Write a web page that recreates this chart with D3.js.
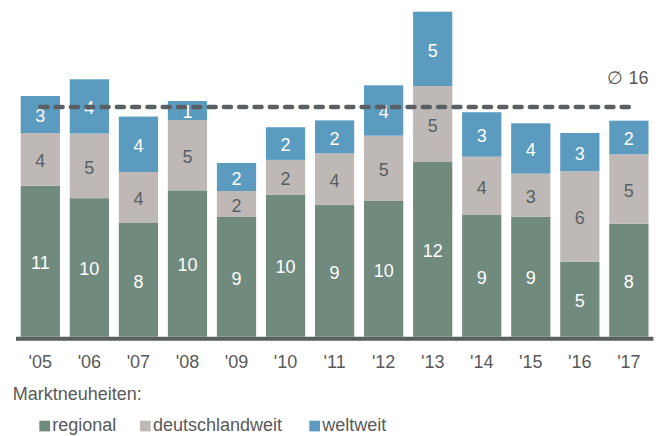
<!DOCTYPE html>
<html>
<head>
<meta charset="utf-8">
<script src="https://cdn.jsdelivr.net/npm/d3@7"></script>
<style>
  body { margin: 0; background: #fff; }
  text { font-family: "Liberation Sans", Arial, sans-serif; }
</style>
</head>
<body>
<div id="chart"></div>
<script>
const years = ["'05", "'06", "'07", "'08", "'09", "'10", "'11", "'12", "'13", "'14", "'15", "'16", "'17"];
const regional = [10.77, 9.88, 8.11, 10.44, 8.54, 10.14, 9.39, 9.68, 12.46, 8.68, 8.56, 5.35, 8.06];
const national = [3.76, 4.61, 3.64, 5.01, 1.85, 2.47, 3.69, 4.66, 5.42, 4.16, 3.07, 6.45, 4.95];
const worldwide = [2.64, 3.87, 3.95, 1.36, 2.00, 2.33, 2.35, 3.59, 5.30, 3.17, 3.59, 2.73, 2.40];
const seriesNames = ["regional", "deutschlandweit", "weltweit"];

const green = "#718a7e", grey = "#beb9b6", blue = "#5a9bbf";
const dark = "#5a5f63", textCol = "#595959";
const colorScale = d3.scaleOrdinal().domain(seriesNames).range([green, grey, blue]);
const labelColor = { regional: "#fff", deutschlandweit: dark, weltweit: "#fff" };

const W = 661, H = 436, baseY = 336.7;

const rows = years.map((y, i) => ({
  year: y, regional: regional[i], deutschlandweit: national[i], weltweit: worldwide[i]
}));
const stacked = d3.stack().keys(seriesNames)(rows);
const totals = rows.map(r => r.regional + r.deutschlandweit + r.weltweit);
const avg = d3.mean(totals);

const x = d3.scaleBand().domain(years).range([15.8, 653.4]).paddingInner(0.2).paddingOuter(0.1);
const y = d3.scaleLinear().domain([0, 24]).range([baseY, baseY - 24 * 14.02]);

const svg = d3.select("#chart").append("svg")
  .attr("width", W).attr("height", H);

const layers = svg.selectAll("g.layer").data(stacked).join("g")
  .attr("class", "layer")
  .attr("fill", d => colorScale(d.key));

layers.selectAll("rect").data(d => d).join("rect")
  .attr("x", d => x(d.data.year))
  .attr("width", x.bandwidth())
  .attr("y", d => y(d[1]))
  .attr("height", d => y(d[0]) - y(d[1]));

stacked.forEach(layer => {
  svg.append("g").selectAll("text").data(layer).join("text")
    .attr("x", d => x(d.data.year) + x.bandwidth() / 2)
    .attr("y", d => (y(d[0]) + y(d[1])) / 2 + 1.5)
    .attr("dy", "0.35em")
    .attr("text-anchor", "middle")
    .attr("font-size", "18px")
    .attr("fill", labelColor[layer.key])
    .text(d => Math.round(d[1] - d[0]));
});

// average line
svg.append("line")
  .attr("x1", x(years[0]) + x.bandwidth() / 2)
  .attr("x2", x(years[years.length - 1]) + x.bandwidth() / 2)
  .attr("y1", y(avg)).attr("y2", y(avg))
  .attr("stroke", dark)
  .attr("stroke-width", 4.5)
  .attr("stroke-linecap", "round")
  .attr("stroke-dasharray", "7 8.3");

svg.append("text")
  .attr("x", x(years[years.length - 1]) + x.bandwidth())
  .attr("y", 84)
  .attr("text-anchor", "end")
  .attr("font-size", "18px")
  .attr("fill", textCol)
  .text("\u2205 " + Math.round(avg));

// x axis
svg.append("line")
  .attr("x1", 16).attr("x2", 653.4)
  .attr("y1", baseY + 2).attr("y2", baseY + 2)
  .attr("stroke", dark).attr("stroke-width", 4);

svg.append("g").selectAll("text").data(years).join("text")
  .attr("x", d => x(d) + x.bandwidth() / 2)
  .attr("y", 368)
  .attr("text-anchor", "middle")
  .attr("font-size", "18px")
  .attr("fill", textCol)
  .text(d => d);

svg.append("text")
  .attr("x", 12.7).attr("y", 399.5)
  .attr("font-size", "18px")
  .attr("fill", textCol)
  .text("Marktneuheiten:");

// legend
const legendX = [39.3, 140, 309.3];
const legend = svg.append("g").selectAll("g").data(seriesNames).join("g")
  .attr("transform", (d, i) => `translate(${legendX[i]},420.7)`);
legend.append("rect")
  .attr("width", 10.7).attr("height", 10.7)
  .attr("fill", d => colorScale(d));
legend.append("text")
  .attr("x", 13).attr("y", 10.5)
  .attr("font-size", "18px")
  .attr("fill", textCol)
  .text(d => d);
</script>
</body>
</html>
